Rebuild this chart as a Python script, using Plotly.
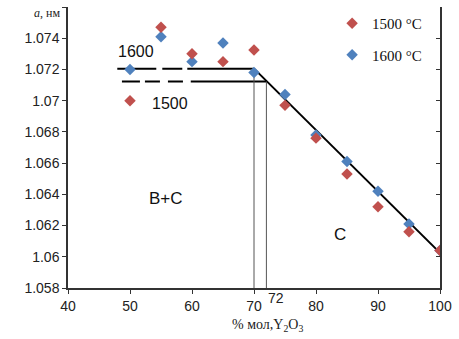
import plotly.graph_objects as go

# Lattice parameter a (nm) vs Y2O3 content (mol %)
x_1500 = [50, 55, 60, 65, 70, 75, 80, 85, 90, 95, 100]
a_1500 = [1.0700, 1.0747, 1.0730, 1.0725, 1.07325, 1.0697, 1.0676, 1.0653, 1.0632, 1.0616, 1.0604]

x_1600 = [50, 55, 60, 65, 70, 75, 80, 85, 90, 95, 100]
a_1600 = [1.0720, 1.0741, 1.0725, 1.0737, 1.0718, 1.0704, 1.0678, 1.0661, 1.0642, 1.0621, 1.0604]

# Phase boundaries: plateau values for both temperatures and the single-phase C line
plateau_1600 = 1.07205
plateau_1500 = 1.07122
c_line_x = [70, 100]
c_line_a = [1.07205, 1.06025]
break_1600 = 70
break_1500 = 72
dash_start_1600, dash_end_1600 = 47.95, 59.24
dash_start_1500, dash_end_1500 = 48.7, 59.8

y_ticks = [1.058, 1.060, 1.062, 1.064, 1.066, 1.068, 1.070, 1.072, 1.074, 1.076]
y_tick_text = ["1.058", "1.06", "1.062", "1.064", "1.066", "1.068", "1.07", "1.072", "1.074", ""]
x_ticks = [40, 50, 60, 70, 80, 90, 100]

RED = "#C0504D"
BLUE = "#4F81BD"
LINE = "black"
Y_MIN, Y_MAX = 1.058, 1.076

fig = go.Figure()

# plateau lines: hand-drawn dashed part, then solid part up to the break
fig.add_trace(go.Scatter(x=[dash_start_1600, dash_end_1600], y=[plateau_1600, plateau_1600],
                         mode="lines", line=dict(color=LINE, width=2, dash="39px,6px,20px,5px"),
                         showlegend=False, hoverinfo="skip"))
fig.add_trace(go.Scatter(x=[dash_start_1500, dash_end_1500], y=[plateau_1500, plateau_1500],
                         mode="lines",
                         line=dict(color=LINE, width=2, dash="18px,5px,15px,8px,15px,8px"),
                         showlegend=False, hoverinfo="skip"))
fig.add_trace(go.Scatter(x=[dash_end_1600, break_1600], y=[plateau_1600, plateau_1600],
                         mode="lines", line=dict(color=LINE, width=2),
                         showlegend=False, hoverinfo="skip"))
fig.add_trace(go.Scatter(x=[dash_end_1500, break_1500], y=[plateau_1500, plateau_1500],
                         mode="lines", line=dict(color=LINE, width=2),
                         showlegend=False, hoverinfo="skip"))
fig.add_trace(go.Scatter(x=c_line_x, y=c_line_a, mode="lines",
                         line=dict(color=LINE, width=2),
                         showlegend=False, hoverinfo="skip"))

# thin drop lines at the break compositions
for xb, level in [(break_1600, plateau_1600), (break_1500, plateau_1500)]:
    fig.add_trace(go.Scatter(x=[xb, xb], y=[Y_MIN, level], mode="lines",
                             line=dict(color="#555555", width=1),
                             showlegend=False, hoverinfo="skip"))

fig.add_trace(go.Scatter(x=x_1600, y=a_1600, mode="markers", name="1600 °C",
                         legendgroup="b", legendrank=2,
                         marker=dict(symbol="diamond", size=8.8, color=BLUE)))
fig.add_trace(go.Scatter(x=x_1500, y=a_1500, mode="markers", name="1500 °C",
                         legendgroup="a", legendrank=1,
                         marker=dict(symbol="diamond", size=8.8, color=RED)))

# empty trace to carry the right-hand axis
fig.add_trace(go.Scatter(x=[None], y=[None], yaxis="y2", showlegend=False, hoverinfo="skip"))

tick_font = dict(family="Liberation Sans, Arial, sans-serif", size=14, color="#222222")
num_font = dict(family="Liberation Sans, Arial, sans-serif", size=16, color="#111111")
label_font = dict(family="Liberation Sans, Arial, sans-serif", size=17, color="#111111")
serif = "Liberation Serif, Times New Roman, serif"

fig.update_layout(
    width=459, height=339,
    margin=dict(l=68, r=19, t=7, b=51),
    plot_bgcolor="white", paper_bgcolor="white",
    showlegend=True,
    legend=dict(x=0.71, y=1.0, xanchor="left", yanchor="top",
                traceorder="grouped", tracegroupgap=9,
                font=dict(family=serif, size=15, color="#111111"),
                bgcolor="rgba(0,0,0,0)", itemwidth=30),
    xaxis=dict(range=[40, 100], tickvals=x_ticks, ticks="outside", ticklen=4,
               tickcolor="#333333", showline=True, linecolor="#333333", linewidth=1.5,
               showgrid=False, zeroline=False, tickfont=tick_font),
    yaxis=dict(range=[Y_MIN, Y_MAX], tickvals=y_ticks, ticktext=y_tick_text,
               ticks="outside", ticklen=4, tickcolor="#333333",
               showline=True, linecolor="#333333", linewidth=1.5,
               showgrid=False, zeroline=False, tickfont=tick_font),
    yaxis2=dict(range=[Y_MIN, Y_MAX], overlaying="y", side="right",
                tickvals=y_ticks, ticks="inside", ticklen=4, tickcolor="#333333",
                showticklabels=False, showline=True, linecolor="#333333",
                linewidth=1.5, showgrid=False, zeroline=False),
)

annotations = [
    dict(x=50.9, y=1.07316, text="1600", font=num_font),
    dict(x=56.45, y=1.06982, text="1500", font=num_font),
    dict(x=55.75, y=1.06374, text="B+C", font=label_font),
    dict(x=83.9, y=1.06143, text="C", font=label_font),
]
for a in annotations:
    fig.add_annotation(xref="x", yref="y", showarrow=False, **a)

fig.add_annotation(xref="x", yref="paper", x=73.5, y=-0.036, yanchor="middle",
                   text="72", showarrow=False, font=tick_font)
fig.add_annotation(xref="paper", yref="paper", x=(267 - 68) / 372, y=(288 - 325) / 281,
                   yanchor="middle", text="% мол,Y<sub>2</sub>O<sub>3</sub>", showarrow=False,
                   font=dict(family=serif, size=14, color="#222222"))
fig.add_annotation(xref="paper", yref="paper", x=-0.016, y=(288 - 13) / 281,
                   xanchor="right", yanchor="middle",
                   text="<i>a</i>, нм", showarrow=False,
                   font=dict(family=serif, size=12, color="#222222"))

fig.write_html("out.html")
